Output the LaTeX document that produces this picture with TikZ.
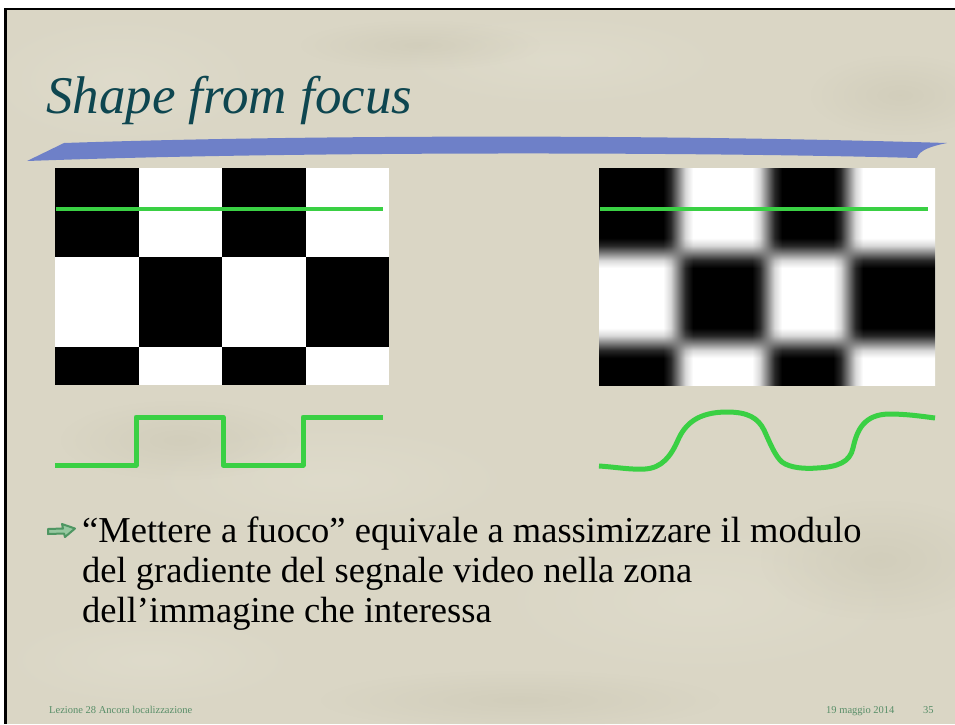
\documentclass[tikz,border=0pt]{standalone}
\usepackage{fontspec}
\setmainfont{Liberation Serif}
\usetikzlibrary{fadings}
\tikzfading[name=softblob, inner color=transparent!0, outer color=transparent!100]
\definecolor{bgc}{RGB}{218,214,197}
\definecolor{bglight}{RGB}{228,225,210}
\definecolor{bgdark}{RGB}{200,196,176}
\definecolor{sig}{RGB}{58,208,68}
\definecolor{titlec}{RGB}{14,70,80}
\definecolor{swoosh}{RGB}{110,128,200}
\definecolor{footc}{RGB}{88,142,104}
\definecolor{bulletc}{RGB}{78,150,98}
\definecolor{bulletfill}{RGB}{150,200,160}
\definecolor{g15}{gray}{0.15}
\definecolor{g50}{gray}{0.5}
\definecolor{g85}{gray}{0.85}
\pgfdeclarehorizontalshading{blurx}{100bp}{color(0bp)=(black); color(34.52bp)=(black); color(35.64bp)=(g15); color(36.76bp)=(g50); color(37.87bp)=(g85); color(38.99bp)=(white); color(47.77bp)=(white); color(48.88bp)=(g85); color(50bp)=(g50); color(51.12bp)=(g15); color(52.23bp)=(black); color(59.82bp)=(black); color(60.94bp)=(g15); color(62.05bp)=(g50); color(63.17bp)=(g85); color(64.29bp)=(white); color(100bp)=(white)}
\pgfdeclareverticalshading{blury}{100bp}{color(0bp)=(black); color(31.22bp)=(black); color(32.95bp)=(g15); color(34.68bp)=(g50); color(36.40bp)=(g85); color(38.13bp)=(white); color(51.96bp)=(white); color(53.69bp)=(g85); color(55.41bp)=(g50); color(57.14bp)=(g15); color(58.87bp)=(black); color(100bp)=(black)}
\begin{document}
\begin{tikzpicture}[x=1pt,y=-1pt,
  sigline/.style={draw=sig, line width=5pt, line join=round},
  scanline/.style={draw=sig, line width=4pt},
  blob/.style={path fading=softblob, opacity=0.45},
  bodytext/.style={anchor=base west, inner sep=0pt, font=\fontsize{36.5}{40}\selectfont, text=black},
  foottext/.style={anchor=base west, inner sep=0pt, font=\fontsize{10.5}{12}\selectfont, text=footc}]
\useasboundingbox (0,0) rectangle (955,724);
% page
\fill[white] (0,0) rectangle (955,724);
\fill[bgc] (6,10) rectangle (955,724);
\begin{scope}
\clip (6,10) rectangle (955,724);
\fill[bglight, blob] (120,80) ellipse (150 and 70);
\fill[bglight, blob] (560,60) ellipse (180 and 50);
\fill[bgdark, blob] (420,45) ellipse (120 and 25);
\fill[bgdark, blob] (900,95) ellipse (90 and 40);
\fill[bglight, blob] (330,480) ellipse (200 and 60);
\fill[bgdark, blob] (180,440) ellipse (120 and 40);
\fill[bglight, blob] (700,600) ellipse (220 and 80);
\fill[bgdark, blob] (880,560) ellipse (120 and 60);
\fill[bglight, blob] (150,660) ellipse (160 and 50);
\fill[bgdark, blob] (520,700) ellipse (200 and 30);
\end{scope}
\fill[black] (4,8) rectangle (955,10);
\fill[black] (4,8) rectangle (7,724);
% title
\node[anchor=base west, inner sep=0pt, font=\fontsize{53}{60}\selectfont\itshape, text=titlec] (title) at (46,113) {Shape from focus};
% swoosh
\fill[swoosh] (27,161) -- (64,143) .. controls (300,135) and (650,134) .. (947,143)
  .. controls (932,146) and (919,150) .. (917,158)
  .. controls (700,152) and (300,151) .. (27,161) -- cycle;
% left checkerboard
\fill[white] (55,168) rectangle (389,385);
\fill[black] (55,168) rectangle (139,257);
\fill[black] (222,168) rectangle (306,257);
\fill[black] (139,257) rectangle (222,347);
\fill[black] (306,257) rectangle (389,347);
\fill[black] (55,347) rectangle (139,385);
\fill[black] (222,347) rectangle (306,385);
\coordinate (ls) at (56,209);
\coordinate (le) at (383,209);
\draw[scanline] (ls) -- (le);
% right blurred checkerboard
\begin{scope}
\shade[shading=blurx] (599,168) rectangle (935,385);
\begin{scope}[blend mode=exclusion]
\shade[shading=blury] (599,168) rectangle (935,385);
\end{scope}
\end{scope}
\coordinate (rs) at (600,209);
\coordinate (re) at (928,209);
\draw[scanline] (rs) -- (re);
% square signal
\draw[sigline] (55,465) -- (136,465) -- (136,417) -- (223,417) -- (223,465) -- (303,465) -- (303,417) -- (383,417);
% smooth signal
\draw[sigline] (599,466) .. controls (615,467) and (632,470) .. (645,469)
  .. controls (662,468) and (671,456) .. (678,440)
  .. controls (685,424) and (698,412) .. (727,412)
  .. controls (748,412) and (758,418) .. (764,430)
  .. controls (770,443) and (775,456) .. (782,462)
  .. controls (790,468) and (805,469) .. (817,468)
  .. controls (838,467) and (850,462) .. (853,448)
  .. controls (857,430) and (864,414) .. (890,414)
  .. controls (905,414) and (920,416) .. (935,418);
% bullet arrow
\draw[draw=bulletc, fill=bulletfill, line width=2pt, line join=round] (48,529) -- (63,528.5) -- (62,524) -- (75,528.5) -- (65,537) -- (64,533.5) -- (48,534) -- cycle;
% body text
\node[bodytext] (l1) at (82,542) {“Mettere a fuoco” equivale a massimizzare il modulo};
\node[bodytext] (l2) at (82,582) {del gradiente del segnale video nella zona};
\node[bodytext] (l3) at (82,622) {dell’immagine che interessa};
% footer
\node[foottext] (f1) at (49,713) {Lezione 28 Ancora localizzazione};
\node[foottext] (f2) at (826,713) {19 maggio 2014};
\node[foottext] (f3) at (923,713) {35};
\end{tikzpicture}
\end{document}
